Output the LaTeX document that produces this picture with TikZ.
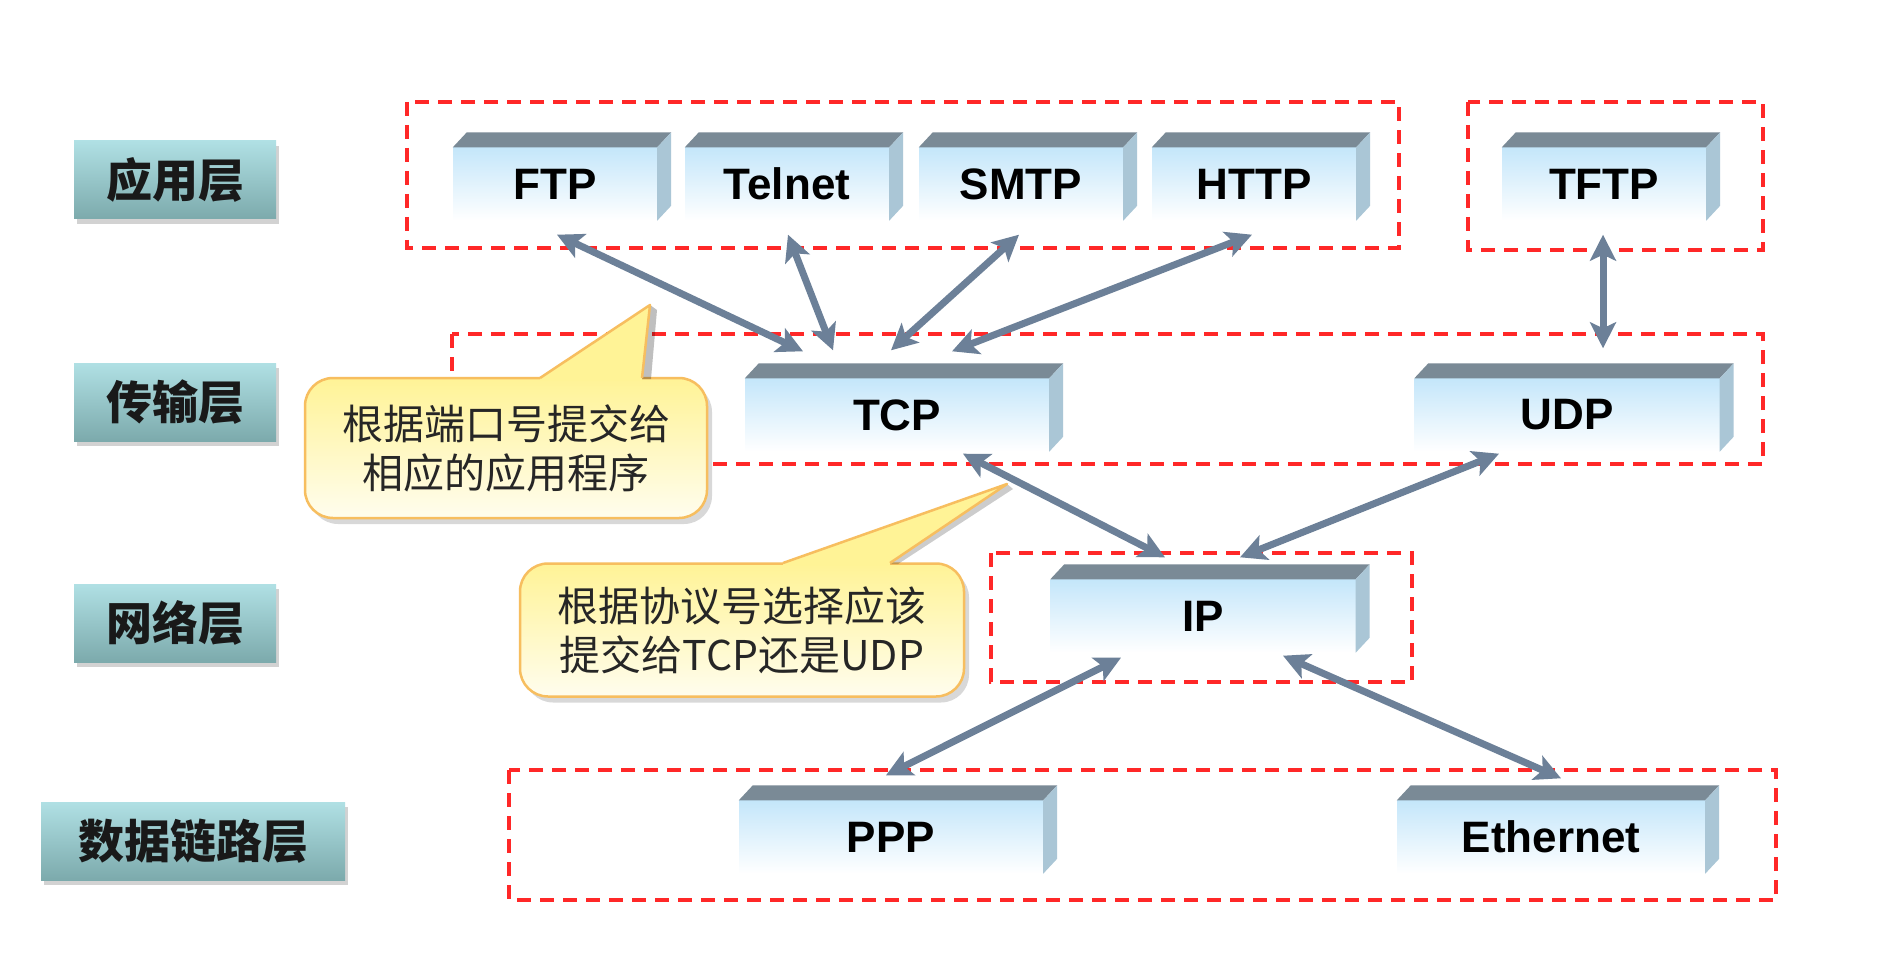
\documentclass[tikz,border=0pt]{standalone}
\usepackage{fontspec}
\setmainfont{Liberation Sans}
\newfontfamily\cjk{Noto Sans CJK SC}
\usetikzlibrary{arrows.meta,shadows,calc}
\definecolor{redd}{RGB}{255,40,40}
\definecolor{arrc}{RGB}{108,128,152}
\definecolor{topc}{RGB}{122,138,150}
\definecolor{sidec}{RGB}{170,198,214}
\definecolor{frontc}{RGB}{196,230,250}
\definecolor{labtop}{RGB}{176,224,228}
\definecolor{labbot}{RGB}{124,170,172}
\definecolor{callyel}{RGB}{255,243,150}
\definecolor{callbot}{RGB}{255,253,238}
\definecolor{callbd}{RGB}{247,190,95}
\begin{document}
\begin{tikzpicture}[x=1pt,y=-1pt,
  redbox/.style={draw=redd, line width=3.5pt, dash pattern=on 14pt off 9pt},
  proto/.style={rectangle, inner sep=0pt, minimum height=73pt, top color=frontc, bottom color=white,
    font=\fontsize{44}{50}\selectfont\bfseries, text=black},
  layer/.style={rectangle, inner sep=0pt, minimum height=78pt, top color=labtop, bottom color=labbot,
    drop shadow={opacity=0.35, shadow xshift=3pt, shadow yshift=-5pt},
    font=\cjk\bfseries\fontsize{46}{50}\selectfont, text=black!90},
  callout/.style={rectangle, rounded corners=28pt, draw=callbd, line width=2.5pt, top color=callyel,
    bottom color=callbot, inner sep=0pt, align=center, text=black!85,
    drop shadow={opacity=0.3, shadow xshift=5pt, shadow yshift=-6pt},
    font=\cjk\fontsize{41}{49}\selectfont},
  conn/.style={arrc, line width=7pt,
    {Stealth[length=26pt,width=26pt,inset=6pt]}-{Stealth[length=26pt,width=26pt,inset=6pt]}}
]
\fill[white] (0,0) rectangle (1884,976);
\useasboundingbox (0,0) rectangle (1884,976);

% layer labels
\node[layer, minimum width=202pt] (l1) at (175,180) {应用层};
\node[layer, minimum width=202pt] (l2) at (175,402) {传输层};
\node[layer, minimum width=202pt] (l3) at (175,623) {网络层};
\node[layer, minimum width=304pt] (l4) at (193,841) {数据链路层};

% dashed groups
\draw[redbox] (407,102) rectangle (1399,248);
\draw[redbox] (1468,102) rectangle (1763,250);
\draw[redbox] (452,334) rectangle (1763,464);
\draw[redbox] (991,553) rectangle (1412,682);
\draw[redbox] (509,770) rectangle (1776,900);

% protocol boxes
\node[proto, minimum width=204pt] (ftp) at (555,184) {FTP};
\node[proto, minimum width=204pt] (telnet) at (787,184) {Telnet};
\node[proto, minimum width=204pt] (smtp) at (1021,184) {SMTP};
\node[proto, minimum width=204pt] (http) at (1254,184) {HTTP};
\node[proto, minimum width=204pt] (tftp) at (1604,184) {TFTP};
\node[proto, minimum width=304pt] (tcp) at (897,415) {TCP};
\node[proto, minimum width=305pt] (udp) at (1567,415) {UDP};
\node[proto, minimum width=305pt] (ip) at (1203,616) {IP};
\node[proto, minimum width=304pt] (ppp) at (891,837) {PPP};
\node[proto, minimum width=308pt] (eth) at (1551,837) {Ethernet};

\foreach \n in {ftp,telnet,smtp,http,tftp,tcp,udp,ip,ppp,eth}{
  \fill[topc] (\n.north west) -- ++(14,-15) -- ($(\n.north east)+(14,-15)$) -- (\n.north east) -- cycle;
  \fill[sidec] (\n.north east) -- ++(14,-15) -- ($(\n.south east)+(14,-15)$) -- (\n.south east) -- cycle;
}

% connectors
\draw[conn] ($(ftp.south)+(2,14)$) -- ($(tcp.north)+(-94,-27)$);
\draw[conn] ($(telnet.south)+(1,14)$) -- ($(tcp.north)+(-64,-28)$);
\draw[conn] ($(smtp.south)+(-2,14)$) -- ($(tcp.north)+(-6,-28)$);
\draw[conn] ($(http.south)+(-2,14)$) -- ($(tcp.north)+(55,-27)$);
\draw[conn] ($(tftp.south)+(-1,14)$) -- ($(udp.north)+(36,-30)$);
\draw[conn] ($(tcp.south)+(66,2)$) -- ($(ip.north)+(-38,-22)$);
\draw[conn] ($(udp.south)+(-68,2)$) -- ($(ip.north)+(37,-22)$);
\draw[conn] ($(ip.south)+(-82,5)$) -- ($(ppp.north)+(-5,-25)$);
\draw[conn] ($(ip.south)+(80,3)$) -- ($(eth.north)+(10,-22)$);

% callouts
\node[callout, minimum width=402pt, minimum height=140pt] (c1) at (506,448)
  {根据端口号提交给\\相应的应用程序};
\fill[black, opacity=0.25] (642,379) -- (650,305) -- (657,310) -- (651,379) -- cycle;
\fill[callyel] (540,378) -- (650,305) -- (642,378) -- (642,380.5) -- (540,380.5) -- cycle;
\draw[callbd, line width=2.5pt, line join=round] (540,378) -- (650,305) -- (642,378);

\node[callout, minimum width=444pt, minimum height=133pt] (c2) at (742,630)
  {根据协议号选择应该\\提交给TCP还是UDP};
\fill[black, opacity=0.2] (890,564) -- (1007,484) -- (1013,489) -- (898,564) -- cycle;
\fill[callyel] (783,563) -- (1007,484) -- (890,563) -- (890,565.5) -- (783,565.5) -- cycle;
\draw[callbd, line width=2.5pt, line join=round] (783,563) -- (1007,484) -- (890,563);
\end{tikzpicture}
\end{document}
